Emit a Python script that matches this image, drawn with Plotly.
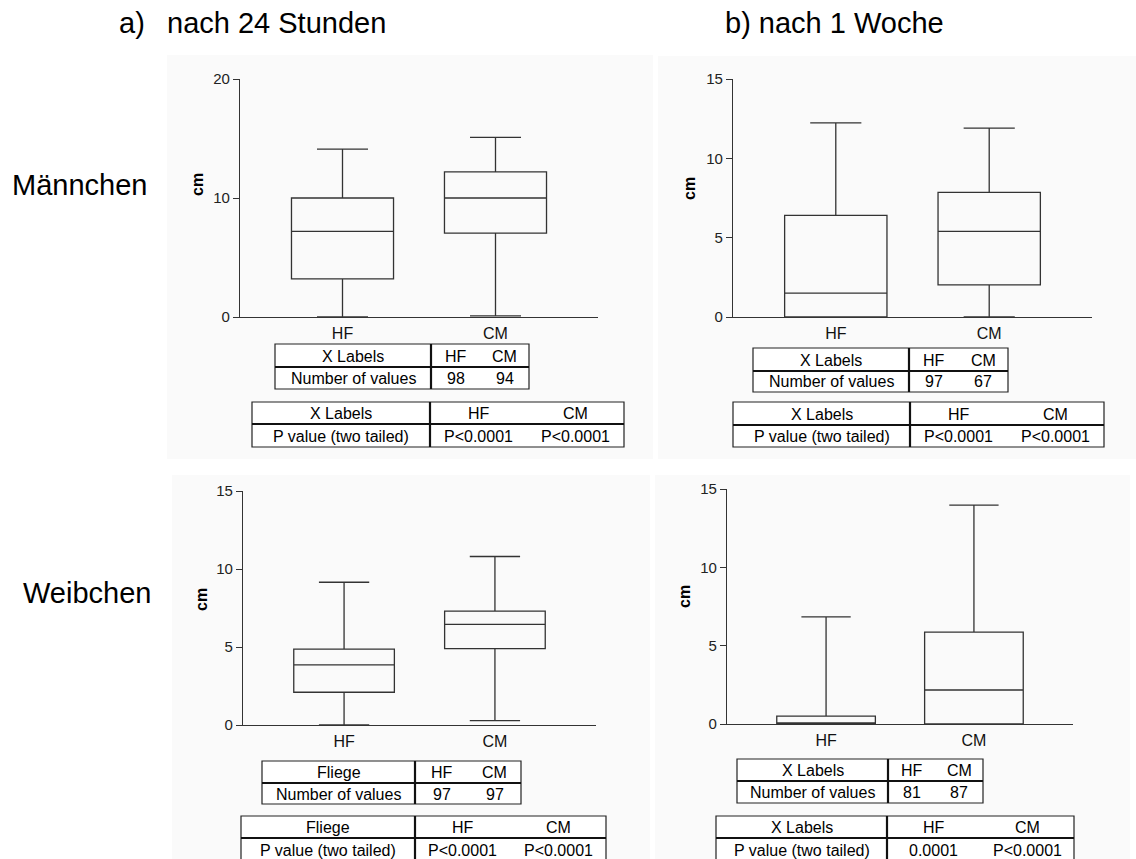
import plotly.graph_objects as go

W, H = 1136, 859

groups = ["HF", "CM"]

# Männchen, nach 24 Stunden
m24_low = [0.0, 0.1]
m24_q1 = [3.2, 7.05]
m24_med = [7.2, 10.0]
m24_q3 = [10.0, 12.2]
m24_high = [14.1, 15.1]
m24_n = ["98", "94"]
m24_p = ["P<0.0001", "P<0.0001"]

# Männchen, nach 1 Woche
m1w_low = [0.0, 0.0]
m1w_q1 = [0.0, 2.02]
m1w_med = [1.5, 5.4]
m1w_q3 = [6.4, 7.86]
m1w_high = [12.24, 11.9]
m1w_n = ["97", "67"]
m1w_p = ["P<0.0001", "P<0.0001"]

# Weibchen, nach 24 Stunden
w24_low = [0.0, 0.28]
w24_q1 = [2.1, 4.9]
w24_med = [3.85, 6.45]
w24_q3 = [4.87, 7.3]
w24_high = [9.15, 10.8]
w24_n = ["97", "97"]
w24_p = ["P<0.0001", "P<0.0001"]

# Weibchen, nach 1 Woche
w1w_low = [0.0, 0.0]
w1w_q1 = [0.0, 0.0]
w1w_med = [0.0, 2.17]
w1w_q3 = [0.5, 5.87]
w1w_high = [6.84, 13.97]
w1w_n = ["81", "87"]
w1w_p = ["0.0001", "P<0.0001"]

y_max = [20, 15, 15, 15]
y_dtick = [10, 5, 5, 5]
row_head = ["X Labels", "X Labels", "Fliege", "X Labels"]

FONT = "Liberation Sans, Arial, sans-serif"
LINE = "#333333"

# layout geometry in pixels (axes box, tables, y title, background)
panels = [
    dict(ax=(240, 598, 317, 79), t1=(275, 431, 529, 344, 367, 389),
         t2=(252, 430, 624, 402, 424, 447), cm=(197, 185), bg=(167, 55, 653, 459)),
    dict(ax=(733, 1092, 317, 79), t1=(753, 909, 1008, 348, 371, 392),
         t2=(733, 910, 1104, 402, 425, 447), cm=(689, 189), bg=(658, 56, 1136, 459)),
    dict(ax=(243, 596, 725, 491), t1=(262, 415, 521, 761, 783, 804),
         t2=(241, 415, 606, 816, 838, 861), cm=(201, 599), bg=(172, 475, 650, 859)),
    dict(ax=(727, 1073, 724, 489), t1=(737, 888, 983, 759, 781, 803),
         t2=(716, 887, 1074, 816, 838, 861), cm=(684, 597), bg=(655, 475, 1130, 859)),
]

stats = [
    (m24_low, m24_q1, m24_med, m24_q3, m24_high, m24_n, m24_p),
    (m1w_low, m1w_q1, m1w_med, m1w_q3, m1w_high, m1w_n, m1w_p),
    (w24_low, w24_q1, w24_med, w24_q3, w24_high, w24_n, w24_p),
    (w1w_low, w1w_q1, w1w_med, w1w_q3, w1w_high, w1w_n, w1w_p),
]


def px(x):
    return x / W


def py(y):
    return 1 - y / H


fig = go.Figure()
shapes = []
annots = []


def txt(x, y, s, size=16, anchor="center", bold=False):
    annots.append(dict(x=px(x), y=py(y), xref="paper", yref="paper", text="<b>%s</b>" % s if bold else s,
                       showarrow=False, xanchor=anchor, yanchor="middle",
                       font=dict(family=FONT, size=size, color="black")))


def table(geo, head, row2, vals_top, vals_bot):
    l, m, r, top, mid, bot = geo
    shapes.append(dict(type="rect", xref="paper", yref="paper", x0=px(l), x1=px(r), y0=py(bot), y1=py(top),
                       line=dict(color="#222", width=1.2), fillcolor="white"))
    shapes.append(dict(type="line", xref="paper", yref="paper", x0=px(l), x1=px(r), y0=py(mid), y1=py(mid),
                       line=dict(color="#111", width=2.2)))
    shapes.append(dict(type="line", xref="paper", yref="paper", x0=px(m), x1=px(m), y0=py(bot), y1=py(top),
                       line=dict(color="#111", width=2.2)))
    c1 = (top + mid) / 2 + 0.5
    c2 = (mid + bot) / 2 + 0.5
    txt((l + m) / 2, c1, head)
    txt((l + m) / 2, c2, row2)
    q = (r - m) / 4
    for i in range(2):
        txt(m + q * (1 + 2 * i), c1, vals_top[i])
        txt(m + q * (1 + 2 * i), c2, vals_bot[i])


for i, (p, s) in enumerate(zip(panels, stats)):
    n = "" if i == 0 else str(i + 1)
    low, q1, med, q3, high, nv, pv = s
    l, r, y0, y1 = p["ax"]

    bx0, by0, bx1, by1 = p["bg"]
    shapes.append(dict(type="rect", xref="paper", yref="paper", x0=px(bx0), x1=px(bx1), y0=py(by1), y1=py(by0),
                       line=dict(width=0), fillcolor="#fafafa", layer="below"))

    fig.add_trace(go.Box(
        x=groups, q1=q1, median=med, q3=q3, lowerfence=low, upperfence=high,
        boxpoints=False, width=0.667, whiskerwidth=0.5,
        line=dict(color=LINE, width=1.3), fillcolor="rgba(0,0,0,0)",
        xaxis="x" + n, yaxis="y" + n, showlegend=False, hoverinfo="skip"))

    fig.layout["xaxis" + n] = dict(
        domain=[px(l), px(r)], anchor="y" + n, type="category", range=[-0.67, 1.67],
        showline=True, linecolor=LINE, linewidth=1.3, ticks="", showgrid=False, zeroline=False,
        automargin=False, ticklabelstandoff=2,
        tickfont=dict(family=FONT, size=16, color="#111"), fixedrange=True)
    fig.layout["yaxis" + n] = dict(
        domain=[py(y0), py(y1)], anchor="x" + n, range=[0, y_max[i]], dtick=y_dtick[i],
        showline=True, linecolor=LINE, linewidth=1.3, ticks="outside", ticklen=6, tickwidth=1.3,
        tickcolor=LINE, showgrid=False, zeroline=False, automargin=False,
        tickfont=dict(family=FONT, size=15, color="#222"), fixedrange=True)

    txt(p["cm"][0], p["cm"][1], "cm", size=16, bold=True)
    annots[-1]["textangle"] = -90

    table(p["t1"], row_head[i], "Number of values", groups, nv)
    table(p["t2"], row_head[i], "P value (two tailed)", groups, pv)

# titles and row labels
txt(117, 23, "a)", size=29, anchor="left")
txt(165, 23, "nach 24 Stunden", size=29, anchor="left")
txt(723, 23, "b) nach 1 Woche", size=29, anchor="left")
txt(10, 185, "Männchen", size=29, anchor="left")
txt(21, 593, "Weibchen", size=29, anchor="left")

fig.update_layout(
    width=W, height=H, margin=dict(l=0, r=0, t=0, b=0, pad=0, autoexpand=False),
    paper_bgcolor="white", plot_bgcolor="rgba(0,0,0,0)",
    shapes=shapes, annotations=annots, showlegend=False,
    font=dict(family=FONT),
)

fig.write_html("out.html", config={"displayModeBar": False},
               post_script="document.body.style.margin='0';")
